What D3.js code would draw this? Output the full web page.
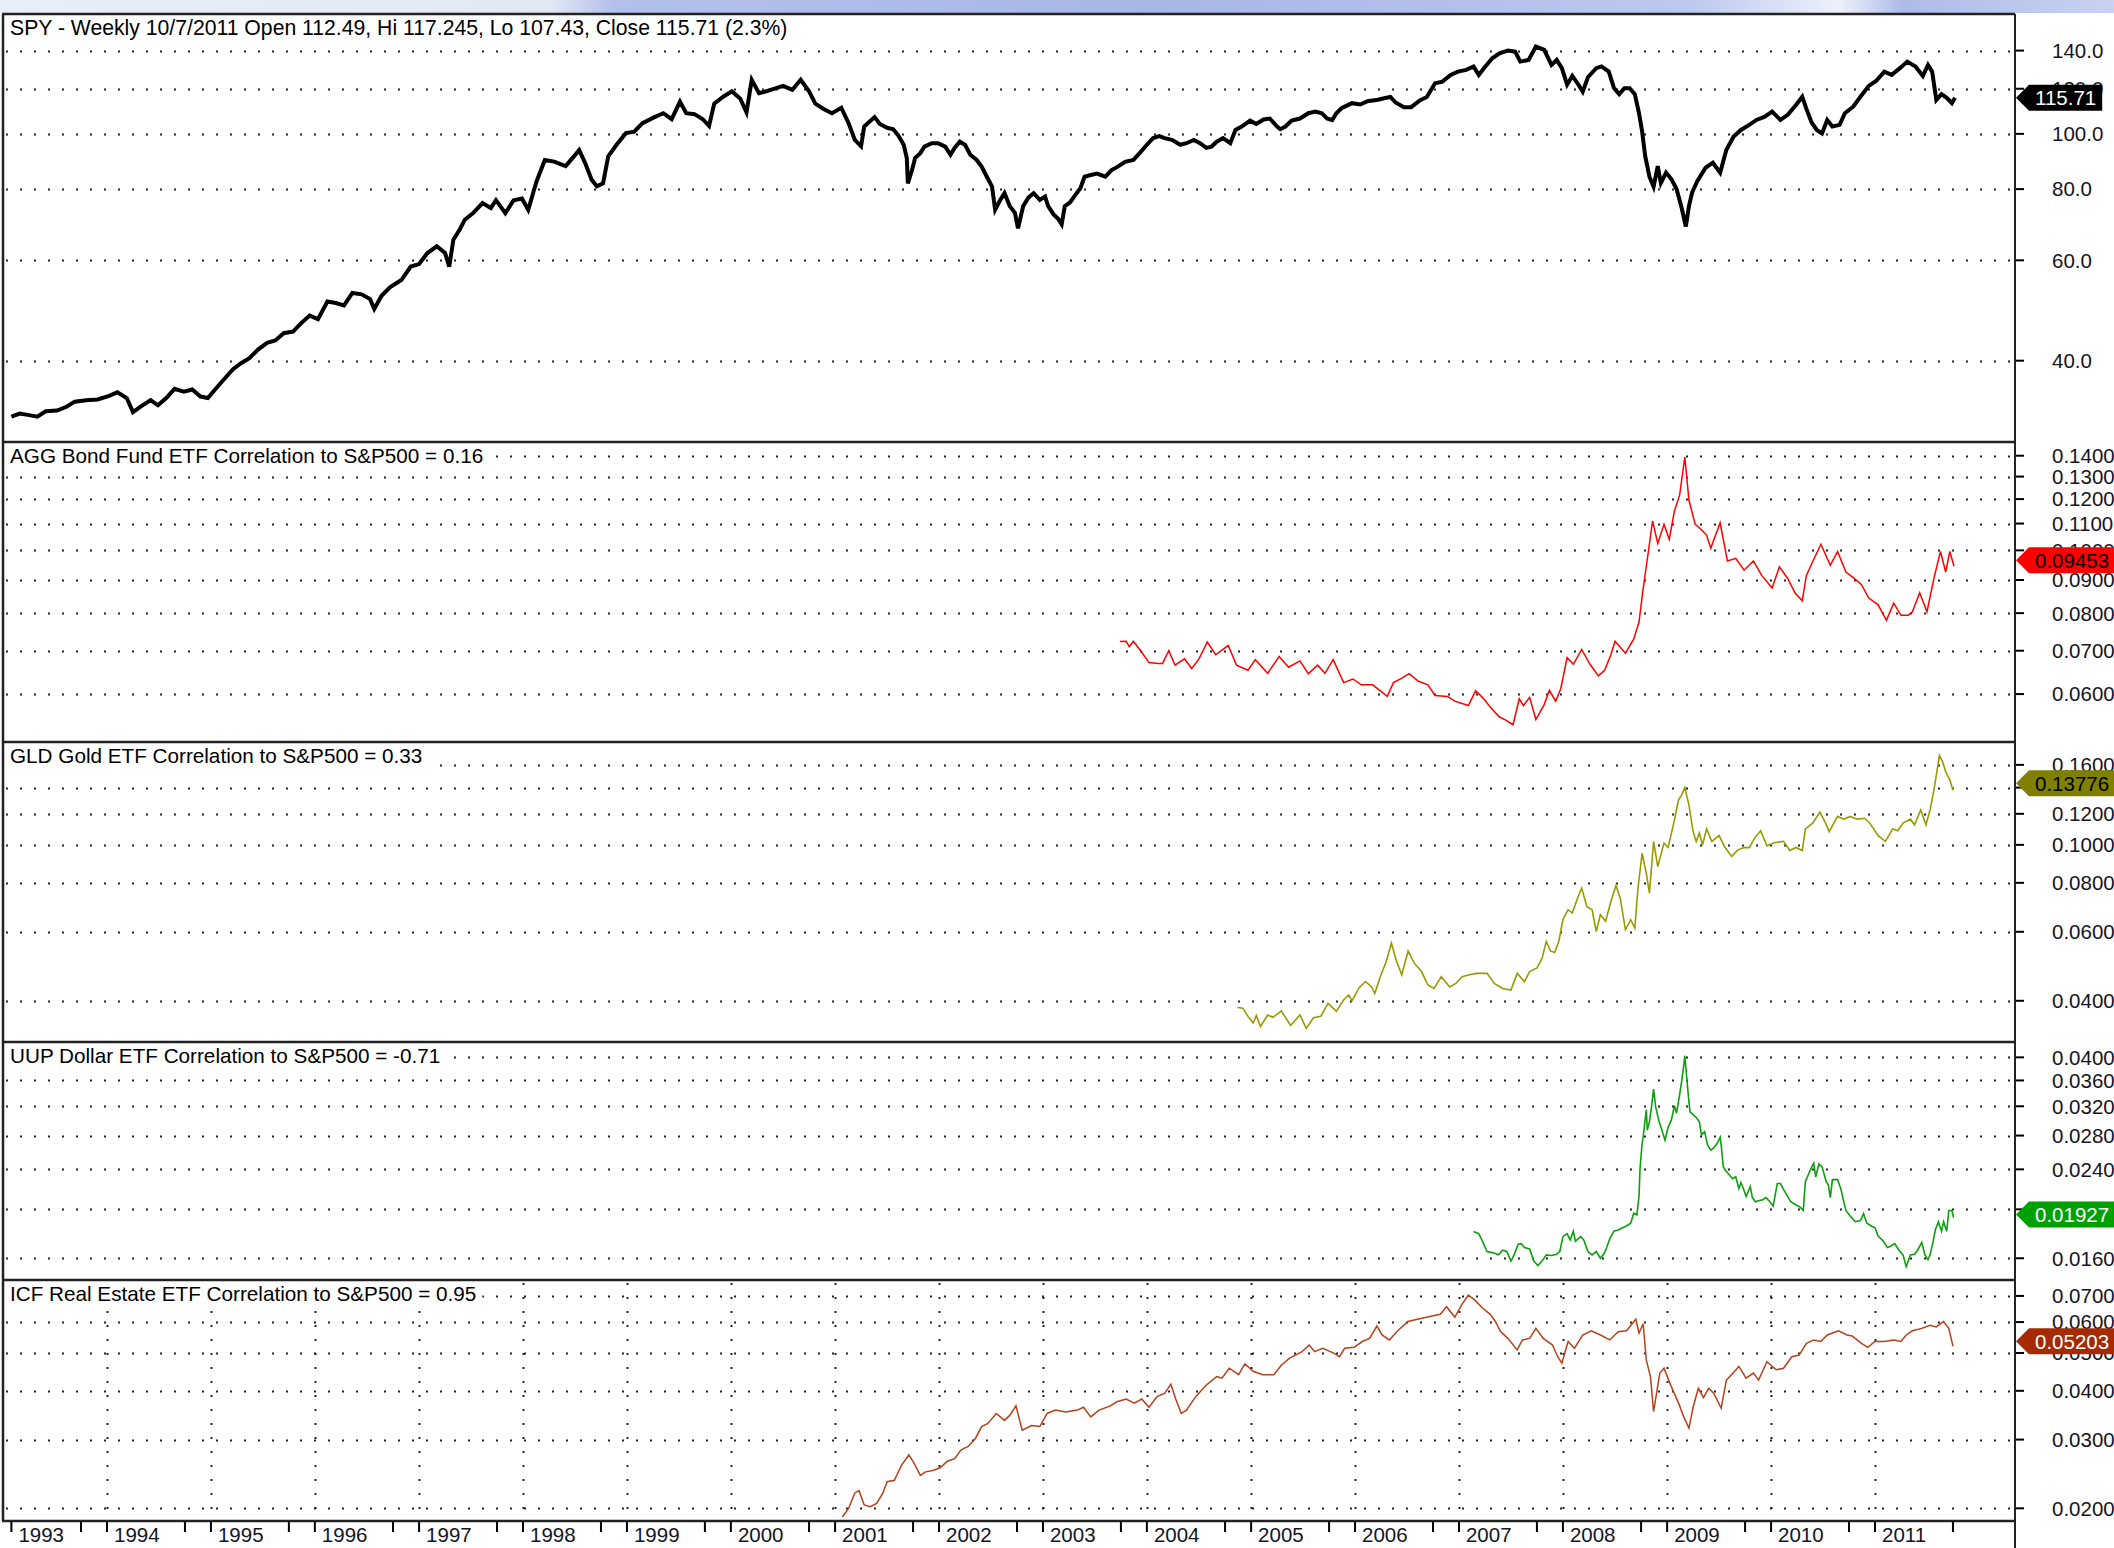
<!DOCTYPE html>
<html>
<head>
<meta charset="utf-8">
<script src="https://cdn.jsdelivr.net/npm/d3@7"></script>
<style>
  body { margin: 0; background: #fff; }
  svg { display: block; }
  text { font-family: "Liberation Sans", Arial, sans-serif; }
</style>
</head>
<body>
<div id="chart"></div>
<script>
// ---- datos (fechas en años decimales) ----
const spyT = [1993.08,1993.16,1993.25,1993.33,1993.41,1993.52,1993.61,1993.69,1993.80,1993.91,1994.02,1994.10,1994.19,1994.25,1994.32,1994.42,1994.49,1994.57,1994.65,1994.74,1994.82,1994.90,1994.97,1995.04,1995.12,1995.21,1995.29,1995.37,1995.45,1995.54,1995.62,1995.70,1995.79,1995.87,1995.95,1996.03,1996.12,1996.20,1996.28,1996.36,1996.45,1996.53,1996.57,1996.64,1996.72,1996.83,1996.92,1997.00,1997.08,1997.17,1997.25,1997.29,1997.33,1997.39,1997.44,1997.52,1997.61,1997.69,1997.74,1997.83,1997.91,1997.99,1998.05,1998.13,1998.21,1998.30,1998.41,1998.49,1998.54,1998.60,1998.66,1998.71,1998.77,1998.82,1998.90,1998.99,1999.07,1999.15,1999.26,1999.35,1999.43,1999.51,1999.57,1999.65,1999.73,1999.79,1999.84,1999.93,2000.01,2000.09,2000.15,2000.20,2000.27,2000.34,2000.42,2000.50,2000.59,2000.67,2000.75,2000.81,2000.89,2000.97,2001.06,2001.13,2001.19,2001.25,
  2001.28,2001.32,2001.38,2001.43,2001.50,2001.56,2001.61,2001.66,2001.69,2001.70,2001.74,2001.77,2001.82,2001.86,2001.93,2001.99,2002.06,2002.11,2002.15,2002.20,2002.25,2002.30,2002.36,2002.41,2002.46,2002.51,2002.54,2002.59,2002.63,2002.68,2002.73,2002.76,2002.81,2002.86,2002.91,2002.97,2003.02,2003.05,2003.10,2003.15,2003.18,2003.21,2003.26,2003.31,2003.36,2003.40,2003.45,2003.52,2003.60,2003.66,2003.72,2003.79,2003.87,2003.93,2004.00,2004.06,2004.12,2004.17,2004.24,2004.32,2004.38,2004.45,2004.51,2004.57,2004.62,2004.67,2004.73,2004.80,2004.85,2004.91,2004.99,2005.05,2005.12,2005.18,2005.25,2005.28,2005.33,2005.39,2005.47,2005.55,2005.62,2005.68,2005.73,2005.78,2005.82,
  2005.87,2005.97,2006.05,2006.12,2006.22,2006.29,2006.34,2006.39,2006.47,2006.54,2006.62,2006.69,2006.77,2006.84,2006.92,2006.99,2007.07,2007.14,2007.19,2007.24,2007.32,2007.39,2007.47,2007.54,2007.59,2007.67,2007.74,2007.82,2007.89,2007.94,2007.99,2008.04,2008.09,2008.14,2008.19,2008.24,2008.32,2008.37,2008.44,2008.49,2008.54,2008.59,2008.64,2008.69,2008.73,2008.76,2008.79,2008.83,2008.87,2008.91,2008.94,2008.99,2009.04,2009.09,2009.14,2009.18,2009.21,2009.24,2009.29,2009.37,2009.44,2009.51,2009.57,2009.64,2009.71,2009.79,2009.86,2009.94,2010.01,2010.09,2010.16,2010.24,2010.30,2010.34,2010.39,2010.44,2010.49,2010.54,2010.59,2010.66,2010.71,2010.79,2010.86,2010.94,2011.01,2011.09,2011.16,2011.24,2011.31,2011.39,2011.46,2011.51,2011.55,2011.59,2011.64,2011.69,2011.74,2011.77];
const spyV = [31.9,32.3,32.1,31.9,32.6,32.7,33.2,33.9,34.1,34.2,34.7,35.2,34.4,32.5,33.2,34.1,33.4,34.4,35.7,35.3,35.6,34.6,34.4,35.6,37.0,38.6,39.6,40.4,41.8,43.0,43.4,44.7,45.0,46.6,48.0,47.3,50.8,50.5,50.0,52.6,52.3,51.3,49.3,52.0,53.8,55.4,58.5,59.1,61.8,63.5,61.8,58.5,65.2,67.9,70.7,72.6,75.6,74.1,76.5,72.6,76.5,77.0,73.6,82.5,90.0,89.4,87.8,91.3,93.7,88.7,83.1,80.9,81.9,91.3,95.7,100.3,100.9,104.4,106.9,108.7,106.1,113.9,108.7,108.3,106.1,103.3,113.0,116.3,118.8,115.3,109.1,124.4,117.9,118.8,120.1,121.4,119.5,124.4,118.8,113.0,110.6,108.7,111.1,104.4,97.6,95.1,
  103.0,104.6,107.0,104.1,102.5,101.9,99.2,95.7,90.7,81.9,86.4,90.7,92.5,95.0,96.3,96.3,95.0,91.9,94.5,96.9,95.7,91.9,90.1,87.6,84.1,80.8,73.6,76.6,78.7,74.7,72.7,68.3,74.7,77.3,78.7,76.6,77.6,74.7,72.3,70.8,69.4,74.7,75.8,78.1,80.3,84.1,84.6,85.2,84.1,86.4,87.6,89.3,90.0,92.5,95.7,98.3,99.1,98.3,97.6,95.7,96.3,97.6,96.3,94.5,95.0,96.9,98.3,96.3,101.6,103.0,105.5,104.1,106.0,106.4,103.0,101.9,103.0,105.5,106.4,108.7,109.4,108.7,106.4,105.7,108.7,
  110.9,113.2,112.6,114.1,114.8,115.6,116.1,113.5,111.4,111.4,114.4,116.1,122.7,123.5,126.9,128.6,129.5,131.3,126.9,130.4,135.7,138.5,140.0,139.4,133.9,134.8,142.3,140.4,132.1,134.8,130.4,122.0,126.4,122.7,118.6,125.7,130.4,131.3,128.6,120.3,117.4,120.3,120.3,117.4,108.7,101.0,91.3,84.1,80.8,87.8,82.0,85.5,83.3,80.1,74.1,68.8,74.7,78.9,82.6,87.2,89.0,85.5,93.8,98.9,101.6,103.7,105.8,107.2,109.4,105.8,108.0,112.4,116.2,110.6,104.7,101.6,100.2,105.8,103.0,103.7,108.7,111.6,116.2,121.4,123.8,128.6,126.9,130.4,133.9,131.3,126.4,132.1,128.6,114.7,117.4,115.7,113.2,115.71];

const aggT = [2003.74,2003.80,2003.83,2003.87,2003.94,2004.02,2004.11,2004.15,2004.21,2004.27,2004.36,2004.43,2004.50,2004.58,2004.66,2004.78,2004.86,2004.97,2005.04,2005.16,2005.27,2005.36,2005.47,2005.55,2005.64,2005.71,2005.79,2005.89,2005.98,2006.06,2006.17,2006.31,2006.37,2006.45,2006.52,2006.61,2006.70,2006.77,2006.89,2006.96,2007.09,2007.16,2007.23,2007.30,2007.39,2007.45,2007.52,2007.58,2007.62,2007.68,2007.74,2007.82,2007.87,2007.93,2007.98,2008.04,2008.10,2008.18,2008.26,2008.34,2008.40,2008.46,2008.50,2008.60,2008.68,2008.73,2008.77,2008.82,2008.86,2008.91,2008.97,2009.02,2009.07,2009.12,2009.17,2009.21,2009.27,2009.32,2009.38,2009.42,2009.51,2009.58,2009.66,2009.74,2009.83,2009.91,2010.01,2010.08,2010.16,2010.23,2010.30,2010.34,2010.41,2010.48,2010.57,2010.64,2010.72,2010.80,2010.87,2010.94,2011.03,2011.11,2011.18,2011.25,2011.32,2011.36,2011.43,2011.50,2011.57,2011.63,2011.68,2011.72,2011.76];
const aggV = [0.0723,0.0724,0.0710,0.0724,0.0700,0.0671,0.0669,0.0669,0.0700,0.0665,0.0680,0.0657,0.0680,0.0722,0.0690,0.0713,0.0665,0.0653,0.0678,0.0646,0.0686,0.0660,0.0675,0.0645,0.0665,0.0646,0.0678,0.0625,0.0633,0.0620,0.0620,0.0595,0.0625,0.0635,0.0645,0.0628,0.0620,0.0597,0.0595,0.0585,0.0576,0.0607,0.0592,0.0573,0.0553,0.0547,0.0538,0.0590,0.0576,0.0593,0.0548,0.0578,0.0608,0.0585,0.0612,0.0683,0.0667,0.0703,0.0667,0.0640,0.0653,0.0690,0.0724,0.0694,0.0730,0.0775,0.0873,0.0996,0.1110,0.1025,0.1097,0.1040,0.1150,0.1217,0.1393,0.1195,0.1097,0.1080,0.1055,0.1008,0.1103,0.0963,0.0972,0.0932,0.0963,0.0915,0.0875,0.0943,0.0905,0.0860,0.0836,0.0915,0.0968,0.1022,0.0948,0.0996,0.0926,0.0905,0.0885,0.0844,0.0824,0.0780,0.0829,0.0794,0.0794,0.0804,0.0860,0.0804,0.0910,0.0996,0.0926,0.0996,0.09453];

const gldT = [2004.87,2004.92,2004.97,2005.02,2005.05,2005.09,2005.16,2005.21,2005.29,2005.38,2005.47,2005.53,2005.60,2005.67,2005.74,2005.82,2005.89,2005.94,2005.97,2006.04,2006.10,2006.16,2006.19,2006.25,2006.30,2006.35,2006.40,2006.45,2006.51,2006.57,2006.64,2006.70,2006.76,2006.83,2006.91,2006.97,2007.03,2007.10,2007.17,2007.27,2007.34,2007.42,2007.50,2007.56,2007.63,2007.68,2007.75,2007.80,2007.84,2007.88,2007.92,2007.96,2008.00,2008.05,2008.09,2008.14,2008.18,2008.23,2008.28,2008.32,2008.36,2008.41,2008.46,2008.51,2008.55,2008.60,2008.65,2008.69,2008.72,2008.76,2008.80,2008.83,2008.87,2008.91,2008.97,2009.01,2009.06,2009.11,2009.14,2009.17,2009.21,2009.25,2009.28,2009.31,2009.34,2009.38,2009.43,2009.50,2009.55,2009.62,2009.68,2009.74,2009.79,2009.84,2009.90,2009.96,2010.03,2010.12,2010.18,2010.24,2010.30,2010.33,2010.40,2010.47,2010.52,2010.56,2010.64,2010.70,2010.76,2010.83,2010.90,2010.95,2011.03,2011.10,2011.17,2011.22,2011.27,2011.34,2011.38,2011.44,2011.49,2011.53,2011.57,2011.62,2011.65,2011.68,2011.72,2011.75];
const gldV = [0.03845,0.0383,0.0365,0.0351,0.0367,0.0344,0.0368,0.0363,0.0377,0.0346,0.0368,0.0340,0.0362,0.0365,0.0394,0.0376,0.0402,0.0414,0.0400,0.0432,0.0448,0.0434,0.0418,0.0466,0.0504,0.0561,0.0504,0.0466,0.0536,0.0499,0.0475,0.0439,0.0430,0.0461,0.0434,0.0443,0.0461,0.0466,0.0470,0.0470,0.0443,0.0430,0.0426,0.0470,0.0448,0.0475,0.0485,0.0514,0.0567,0.0536,0.0531,0.0567,0.0644,0.0683,0.0670,0.0731,0.0775,0.0695,0.0683,0.0601,0.0663,0.0638,0.0717,0.0788,0.0731,0.0607,0.0644,0.0613,0.0775,0.0952,0.0847,0.0753,0.1020,0.0880,0.1011,0.0985,0.1125,0.1303,0.1341,0.1400,0.1263,0.1081,0.1020,0.1073,0.0999,0.1099,0.1020,0.1056,0.0992,0.0934,0.0971,0.0984,0.0984,0.1039,0.1086,0.0994,0.1013,0.1021,0.0967,0.0985,0.0967,0.1098,0.1136,0.1212,0.1143,0.1081,0.1182,0.1163,0.1182,0.1163,0.1169,0.1136,0.1056,0.1021,0.1098,0.1086,0.1136,0.1163,0.1125,0.1228,0.1125,0.1228,0.1395,0.1690,0.1631,0.1538,0.1465,0.13776];

const uupT = [2007.14,2007.19,2007.22,2007.27,2007.33,2007.38,2007.42,2007.46,2007.50,2007.53,2007.57,2007.60,2007.63,2007.68,2007.72,2007.76,2007.81,2007.84,2007.89,2007.94,2007.97,2008.00,2008.04,2008.07,2008.10,2008.12,2008.17,2008.20,2008.24,2008.28,2008.32,2008.36,2008.40,2008.42,2008.45,2008.49,2008.53,2008.56,2008.60,2008.65,2008.68,2008.71,2008.73,2008.74,2008.76,2008.77,2008.80,2008.81,2008.83,2008.85,2008.87,2008.89,2008.92,2008.95,2008.98,2009.01,2009.04,2009.07,2009.09,2009.12,2009.14,2009.16,2009.17,2009.19,2009.20,2009.22,2009.25,2009.28,2009.31,2009.33,2009.36,2009.39,2009.42,2009.45,2009.48,2009.51,2009.52,2009.54,2009.56,2009.60,2009.63,2009.66,2009.69,2009.71,2009.74,2009.76,2009.80,2009.82,2009.85,2009.88,2009.92,2009.95,2009.99,2010.02,2010.06,2010.09,2010.12,2010.16,2010.19,2010.24,2010.28,2010.31,2010.33,2010.35,2010.38,2010.41,2010.43,2010.46,2010.49,2010.53,2010.55,2010.57,2010.59,2010.64,2010.67,2010.70,2010.72,2010.77,2010.81,2010.86,2010.89,2010.92,2010.97,2011.00,2011.03,2011.08,2011.12,2011.15,2011.19,2011.23,2011.27,2011.30,2011.34,2011.38,2011.41,2011.45,2011.48,2011.51,2011.53,2011.56,2011.58,2011.61,2011.64,2011.66,2011.69,2011.71,2011.74,2011.755];
const uupV = [0.01807,0.0179,0.0174,0.0165,0.0164,0.01625,0.0166,0.0165,0.0158,0.01625,0.01706,0.0171,0.0168,0.0167,0.0158,0.01548,0.0159,0.01625,0.0162,0.0163,0.0165,0.01766,0.0179,0.0174,0.0181,0.0173,0.01766,0.0174,0.0165,0.01625,0.0165,0.0160,0.0164,0.0168,0.0175,0.0181,0.0182,0.01835,0.0185,0.01877,0.01965,0.0195,0.0212,0.0241,0.0270,0.0278,0.0315,0.0287,0.0298,0.0319,0.0346,0.0319,0.0300,0.0287,0.0274,0.0291,0.0300,0.0321,0.0310,0.0337,0.0359,0.0386,0.0403,0.0362,0.0343,0.0312,0.0308,0.0304,0.0298,0.0281,0.0285,0.0268,0.0262,0.0265,0.0270,0.0278,0.0268,0.0243,0.0239,0.0234,0.0230,0.0232,0.0220,0.0226,0.0218,0.0212,0.0222,0.0211,0.0207,0.0208,0.0209,0.0211,0.0207,0.0203,0.0225,0.0225,0.0219,0.0212,0.0207,0.0204,0.0202,0.0199,0.0227,0.0232,0.0240,0.0247,0.0232,0.0246,0.0243,0.0227,0.0224,0.0211,0.0229,0.0229,0.0220,0.0207,0.0199,0.0193,0.0189,0.0190,0.0196,0.0188,0.0185,0.0184,0.0177,0.0173,0.0168,0.0169,0.0171,0.0166,0.01625,0.0154,0.01625,0.0163,0.0166,0.0172,0.01625,0.0159,0.01625,0.0173,0.0182,0.0189,0.0181,0.0189,0.0181,0.0199,0.0199,0.01927];

const icfT = [2001.07,2001.13,2001.19,2001.23,2001.28,2001.34,2001.40,2001.46,2001.50,2001.57,2001.64,2001.71,2001.76,2001.82,2001.87,2001.94,2002.01,2002.08,2002.15,2002.21,2002.28,2002.35,2002.41,2002.47,2002.55,2002.63,2002.68,2002.74,2002.80,2002.89,2002.97,2003.04,2003.12,2003.22,2003.33,2003.39,2003.46,2003.54,2003.65,2003.71,2003.80,2003.88,2003.95,2004.02,2004.10,2004.17,2004.23,2004.28,2004.33,2004.38,2004.47,2004.57,2004.67,2004.72,2004.79,2004.88,2004.94,2005.02,2005.11,2005.22,2005.29,2005.37,2005.49,2005.56,2005.61,2005.69,2005.80,2005.85,2005.90,2005.99,2006.07,2006.14,2006.21,2006.26,2006.33,2006.41,2006.51,2006.62,2006.72,2006.82,2006.88,2006.96,2007.03,2007.09,2007.15,2007.23,2007.30,2007.35,2007.40,2007.47,2007.56,2007.61,2007.68,2007.74,2007.81,2007.90,2007.95,2007.99,2008.05,2008.11,2008.19,2008.27,2008.36,2008.45,2008.53,2008.61,2008.70,2008.73,2008.77,2008.80,2008.84,2008.87,2008.93,2008.97,2009.04,2009.11,2009.16,2009.21,2009.25,2009.30,2009.35,2009.40,2009.45,2009.52,2009.57,2009.62,2009.69,2009.76,2009.83,2009.88,2009.96,2010.05,2010.12,2010.20,2010.27,2010.34,2010.41,2010.48,2010.54,2010.65,2010.73,2010.78,2010.87,2010.93,2011.00,2011.09,2011.18,2011.25,2011.30,2011.36,2011.45,2011.53,2011.59,2011.66,2011.71,2011.75];
const icfV = [0.0190,0.0200,0.0219,0.0222,0.0204,0.0202,0.0206,0.0219,0.0234,0.0236,0.0258,0.0274,0.0261,0.0243,0.0248,0.0250,0.0254,0.0264,0.0268,0.0282,0.0288,0.0302,0.0324,0.0330,0.0350,0.0336,0.0346,0.0366,0.0317,0.0326,0.0324,0.0350,0.0357,0.0353,0.0357,0.0363,0.0343,0.0357,0.0366,0.0375,0.0381,0.0372,0.0381,0.0363,0.0387,0.0394,0.0416,0.0379,0.0350,0.0357,0.0387,0.0414,0.0435,0.0431,0.0457,0.0440,0.0469,0.0449,0.0440,0.0440,0.0465,0.0485,0.0504,0.0524,0.0504,0.0514,0.0499,0.0489,0.0514,0.0517,0.0535,0.0545,0.0586,0.0556,0.0540,0.0570,0.0602,0.0612,0.0620,0.0628,0.0657,0.0618,0.0667,0.0704,0.0684,0.0651,0.0628,0.0602,0.0567,0.0545,0.0509,0.0540,0.0545,0.0578,0.0545,0.0524,0.0489,0.0471,0.0535,0.0514,0.0556,0.0570,0.0556,0.0540,0.0567,0.0570,0.0610,0.0562,0.0594,0.0480,0.0435,0.0354,0.0444,0.0457,0.0410,0.0372,0.0343,0.0321,0.0363,0.0406,0.0384,0.0406,0.0394,0.0361,0.0426,0.0440,0.0462,0.0431,0.0444,0.0426,0.0475,0.0453,0.0457,0.0489,0.0494,0.0529,0.0540,0.0535,0.0556,0.0570,0.0556,0.0553,0.0529,0.0517,0.0535,0.0535,0.0540,0.0535,0.0556,0.0570,0.0578,0.0589,0.0583,0.0602,0.0578,0.05203];

// etiquetas de los ejes
const spyTicks = [40, 60, 80, 100, 120, 140];
const aggTicks = [0.06, 0.07, 0.08, 0.09, 0.10, 0.11, 0.12, 0.13, 0.14];
const gldTicks = [0.04, 0.06, 0.08, 0.10, 0.12, 0.14, 0.16];
const uupTicks = [0.016, 0.020, 0.024, 0.028, 0.032, 0.036, 0.040];
const icfTicks = [0.02, 0.03, 0.04, 0.05, 0.06, 0.07];
const yearLabels = d3.range(1993, 2012);
const firstBar = 1993.08;

const titles = [
  "SPY - Weekly 10/7/2011 Open 112.49, Hi 117.245, Lo 107.43, Close 115.71 (2.3%)",
  "AGG Bond Fund ETF Correlation to S&P500 = 0.16",
  "GLD Gold ETF Correlation to S&P500 = 0.33",
  "UUP Dollar ETF Correlation to S&P500 = -0.71",
  "ICF Real Estate ETF Correlation to S&P500 = 0.95"
];

// ---- dimensiones ----
const width = 2114, height = 1548;
const plotLeft = 3, plotRight = 2015;
const panelTop = [14, 442, 742, 1042, 1280];
const panelBottom = [442, 742, 1042, 1280, 1521];
const yDomains = [[28.8, 162.3], [0.0506, 0.147], [0.0314, 0.183], [0.01449, 0.0429], [0.01856, 0.0769]];
const fontSize = 20.5;

function toDate(t) {
  const y = Math.floor(t);
  const a = new Date(y, 0, 1), b = new Date(y + 1, 0, 1);
  return new Date(+a + (t - y) * (b - a));
}

const panels = [
  { t: spyT, v: spyV, ticks: spyTicks, fmt: d3.format(".1f"), last: d3.format(".2f"), color: "#000", width: 4, box: "#000", boxText: "#fff", boxShift: 0, titleSize: 21.2 },
  { t: aggT, v: aggV, ticks: aggTicks, fmt: d3.format(".4f"), last: d3.format(".5f"), color: "#ff0000", width: 1.5, box: "#ff0000", boxText: "#000", boxShift: -6, titleSize: 20.7 },
  { t: gldT, v: gldV, ticks: gldTicks, fmt: d3.format(".4f"), last: d3.format(".5f"), color: "#9a9a00", width: 1.6, box: "#808000", boxText: "#000", boxShift: -7, titleSize: 20.7 },
  { t: uupT, v: uupV, ticks: uupTicks, fmt: d3.format(".4f"), last: d3.format(".5f"), color: "#0ca00c", width: 1.6, box: "#00a000", boxText: "#fff", boxShift: -3, titleSize: 20.7 },
  { t: icfT, v: icfV, ticks: icfTicks, fmt: d3.format(".4f"), last: d3.format(".5f"), color: "#b4421a", width: 1.5, box: "#a52a00", boxText: "#fff", boxShift: -5, titleSize: 20.7 }
];

const x = d3.scaleTime()
  .domain([new Date(1994, 0, 1), new Date(2011, 0, 1)])
  .range([107, 1875]);

const svg = d3.select("#chart").append("svg")
  .attr("width", width)
  .attr("height", height);

// franja decorativa superior
const grad = svg.append("defs").append("linearGradient").attr("id", "band");
[[0, "#e9edf7"], [0.26, "#e3e8f5"], [0.29, "#b3c0ea"], [0.55, "#a8b6e6"], [0.8, "#bdc8ee"], [0.87, "#eef1fa"], [0.9, "#aebbe8"], [1, "#c9d2f1"]]
  .forEach(([o, c]) => grad.append("stop").attr("offset", o).attr("stop-color", c));
svg.append("rect").attr("x", 0).attr("y", 0).attr("width", width).attr("height", 13).attr("fill", "url(#band)");

panels.forEach((p, i) => {
  const top = panelTop[i], bottom = panelBottom[i];
  const y = d3.scaleLog().domain(yDomains[i]).range([bottom, top]);
  const g = svg.append("g");

  // rejilla punteada horizontal
  g.selectAll("line.grid")
    .data(p.ticks)
    .enter().append("line")
    .attr("x1", 6).attr("x2", plotRight - 2)
    .attr("y1", d => Math.round(y(d)) + 0.5).attr("y2", d => Math.round(y(d)) + 0.5)
    .attr("stroke", "#222").attr("stroke-width", 2)
    .attr("stroke-dasharray", "2,12");

  // rejilla vertical solo en el ultimo panel
  if (i === 4) {
    g.selectAll("line.vgrid")
      .data(d3.range(1994, 2012))
      .enter().append("line")
      .attr("x1", d => Math.round(x(toDate(d))) + 0.5).attr("x2", d => Math.round(x(toDate(d))) + 0.5)
      .attr("y1", top + 3).attr("y2", bottom - 2)
      .attr("stroke", "#222").attr("stroke-width", 2)
      .attr("stroke-dasharray", "2,12");
  }

  // serie
  const line = d3.line()
    .x((d, k) => x(toDate(p.t[k])))
    .y(d => y(d));
  g.append("path")
    .datum(p.v)
    .attr("d", line)
    .attr("fill", "none")
    .attr("stroke", p.color)
    .attr("stroke-width", p.width)
    .attr("stroke-linejoin", "miter");

  // titulo con fondo blanco
  const title = g.append("text")
    .attr("x", 10).attr("y", top + 21)
    .attr("font-size", p.titleSize)
    .attr("fill", "#000")
    .text(titles[i]);
  const tw = title.node().getComputedTextLength();
  g.insert("rect", "text")
    .attr("x", 6).attr("y", top + 3)
    .attr("width", tw + 10).attr("height", 22)
    .attr("fill", "#fff");

  // eje derecho: marcas y etiquetas
  g.selectAll("line.tick")
    .data(p.ticks)
    .enter().append("line")
    .attr("x1", plotRight).attr("x2", plotRight + 9)
    .attr("y1", d => y(d)).attr("y2", d => y(d))
    .attr("stroke", "#000").attr("stroke-width", 2);
  g.selectAll("text.tick")
    .data(p.ticks)
    .enter().append("text")
    .attr("x", 2052).attr("y", d => y(d))
    .attr("dy", "0.36em")
    .attr("font-size", fontSize)
    .attr("fill", "#151525")
    .text(p.fmt);

  // etiqueta del ultimo valor (tapa parcialmente la etiqueta del eje, como en el original)
  const lastV = p.v[p.v.length - 1];
  const yc = y(lastV) + p.boxShift;
  const label = svg.append("text")
    .attr("x", 2035).attr("y", yc)
    .attr("dy", "0.36em")
    .attr("font-size", fontSize)
    .attr("fill", p.boxText)
    .text(p.last(lastV));
  const lw = label.node().getComputedTextLength();
  const right = Math.min(2035 + lw + 6, width);
  svg.insert("polygon", function() { return label.node(); })
    .attr("points", [[2016, yc], [2029, yc - 13], [right, yc - 13], [right, yc + 13], [2029, yc + 13]].map(q => q.join(",")).join(" "))
    .attr("fill", p.box);
});

// marcos de los paneles
svg.selectAll("line.sep")
  .data(panelTop.concat([panelBottom[4]]))
  .enter().append("line")
  .attr("x1", plotLeft - 1).attr("x2", plotRight)
  .attr("y1", d => d).attr("y2", d => d)
  .attr("stroke", "#222").attr("stroke-width", 2.5);
svg.append("line")
  .attr("x1", plotLeft).attr("x2", plotLeft)
  .attr("y1", panelTop[0]).attr("y2", panelBottom[4])
  .attr("stroke", "#222").attr("stroke-width", 2.5);
svg.append("line")
  .attr("x1", plotRight).attr("x2", plotRight)
  .attr("y1", panelTop[0]).attr("y2", height)
  .attr("stroke", "#222").attr("stroke-width", 2);

// eje inferior: años
const axisY = panelBottom[4];
const yearStart = d => x(toDate(Math.max(d, firstBar)));
const ax = svg.append("g");
ax.selectAll("line.major")
  .data(yearLabels)
  .enter().append("line")
  .attr("x1", yearStart).attr("x2", yearStart)
  .attr("y1", axisY).attr("y2", axisY + 11)
  .attr("stroke", "#000").attr("stroke-width", 2);
ax.selectAll("line.minor")
  .data(yearLabels)
  .enter().append("line")
  .attr("x1", d => x(toDate(d + 0.75))).attr("x2", d => x(toDate(d + 0.75)))
  .attr("y1", axisY).attr("y2", axisY + 11)
  .attr("stroke", "#000").attr("stroke-width", 2);
ax.selectAll("text.year")
  .data(yearLabels)
  .enter().append("text")
  .attr("x", d => yearStart(d) + 7)
  .attr("y", axisY + 21)
  .attr("font-size", fontSize)
  .attr("fill", "#151525")
  .text(d => d);
</script>
</body>
</html>
